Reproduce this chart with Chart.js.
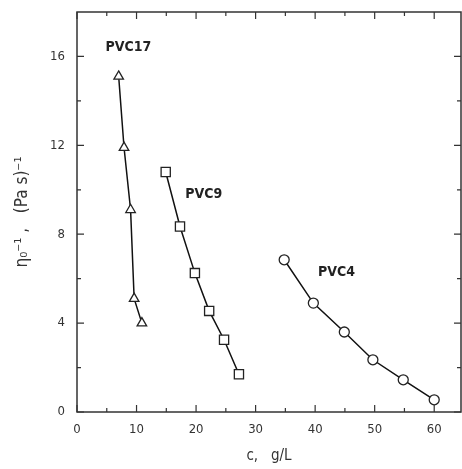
<!DOCTYPE html>
<html>
<head>
<meta charset="utf-8">
<script src="https://cdn.jsdelivr.net/npm/chart.js@4"></script>
<style>
  html, body { margin: 0; padding: 0; background: #fff; }
  #wrap { width: 462px; height: 469px; }
</style>
</head>
<body>
<div id="wrap"><canvas id="etaChart"></canvas></div>
<script>
// concentration c (g/L) and reciprocal zero-shear viscosity (Pa s)^-1
const pvc17C = [7.0, 7.9, 9.0, 9.6, 10.9];
const pvc17Eta = [15.1, 11.9, 9.1, 5.1, 4.0];
const pvc9C = [14.9, 17.3, 19.8, 22.2, 24.7, 27.2];
const pvc9Eta = [10.8, 8.35, 6.25, 4.55, 3.25, 1.7];
const pvc4C = [34.8, 39.7, 44.9, 49.7, 54.8, 60.0];
const pvc4Eta = [6.85, 4.9, 3.6, 2.35, 1.45, 0.55];

const seriesNames = ['PVC17', 'PVC9', 'PVC4'];
const xTicks = [0, 10, 20, 30, 40, 50, 60];
const yTicks = [0, 4, 8, 12, 16];

const FONT = "'Liberation Sans Narrow', 'DejaVu Sans Condensed', sans-serif";

function toPoints(xs, ys) {
    return xs.map((x, i) => ({x: x, y: ys[i]}));
}

// inward ticks on all four sides + frame + series labels
const framePlugin = {
    id: 'frame',
    afterDraw(chart) {
        const {ctx, chartArea: {left, right, top, bottom}} = chart;
        const xs = chart.scales.x, ys = chart.scales.y;
        ctx.save();
        ctx.strokeStyle = '#333';
        ctx.lineWidth = 1.5;
        ctx.strokeRect(left, top, right - left, bottom - top);
        ctx.lineWidth = 1.2;
        ctx.beginPath();
        for (let v = 0; v <= 60; v += 5) {
            const px = xs.getPixelForValue(v);
            const len = v % 10 === 0 ? 7 : 4;
            ctx.moveTo(px, bottom); ctx.lineTo(px, bottom - len);
            ctx.moveTo(px, top); ctx.lineTo(px, top + len);
        }
        for (let v = 0; v <= 16; v += 2) {
            const py = ys.getPixelForValue(v);
            const len = v % 4 === 0 ? 7 : 4;
            ctx.moveTo(left, py); ctx.lineTo(left + len, py);
            ctx.moveTo(right, py); ctx.lineTo(right - len, py);
        }
        ctx.stroke();

        ctx.fillStyle = '#222';
        ctx.font = 'bold 14px ' + FONT;
        ctx.textBaseline = 'middle';
        ctx.fillText(seriesNames[0], xs.getPixelForValue(4.8), ys.getPixelForValue(16.4));
        ctx.fillText(seriesNames[1], xs.getPixelForValue(18.2), ys.getPixelForValue(9.8));
        ctx.fillText(seriesNames[2], xs.getPixelForValue(40.5), ys.getPixelForValue(6.3));
        ctx.restore();
    }
};

const common = {
    showLine: true,
    borderColor: '#111',
    borderWidth: 1.5,
    backgroundColor: '#fff',
    pointBackgroundColor: '#fff',
    pointBorderColor: '#222',
    pointBorderWidth: 1.3,
    pointRadius: 5
};

const ctx = document.getElementById('etaChart').getContext('2d');
new Chart(ctx, {
    type: 'scatter',
    data: {
        datasets: [
            Object.assign({label: seriesNames[0], data: toPoints(pvc17C, pvc17Eta), pointStyle: 'triangle'}, common, {pointRadius: 5.5}),
            Object.assign({label: seriesNames[1], data: toPoints(pvc9C, pvc9Eta), pointStyle: 'rect'}, common, {pointRadius: 6.5}),
            Object.assign({label: seriesNames[2], data: toPoints(pvc4C, pvc4Eta), pointStyle: 'circle'}, common)
        ]
    },
    options: {
        responsive: true,
        maintainAspectRatio: false,
        animation: false,
        layout: { autoPadding: false, padding: { top: 12, right: 1, left: 8, bottom: 0 } },
        plugins: { legend: { display: false }, tooltip: { enabled: false } },
        scales: {
            x: {
                type: 'linear',
                min: 0, max: 64.5,
                afterFit(scale) {
                    scale.height = 57;
                    scale.paddingLeft = 0; scale.paddingRight = 0;
                },
                afterBuildTicks(scale) { scale.ticks = xTicks.map(v => ({value: v})); },
                grid: { display: false, drawTicks: false },
                border: { display: false },
                ticks: { padding: 10, color: '#333', font: { family: FONT, size: 13 } },
                title: {
                    display: true, text: 'c,   g/L', color: '#333',
                    font: { family: FONT, size: 15 }, padding: { top: 7 }
                }
            },
            y: {
                type: 'linear',
                min: 0, max: 18,
                afterFit(scale) {
                    scale.width = 69;
                    scale.paddingTop = 0; scale.paddingBottom = 0;
                },
                afterBuildTicks(scale) { scale.ticks = yTicks.map(v => ({value: v})); },
                grid: { display: false, drawTicks: false },
                border: { display: false },
                ticks: { padding: 12, color: '#333', font: { family: FONT, size: 13 } },
                title: {
                    display: true, text: 'η₀⁻¹ ,   (Pa s)⁻¹', color: '#333',
                    font: { family: FONT, size: 17 }, padding: { bottom: 0 }
                }
            }
        }
    },
    plugins: [framePlugin]
});
</script>
</body>
</html>
